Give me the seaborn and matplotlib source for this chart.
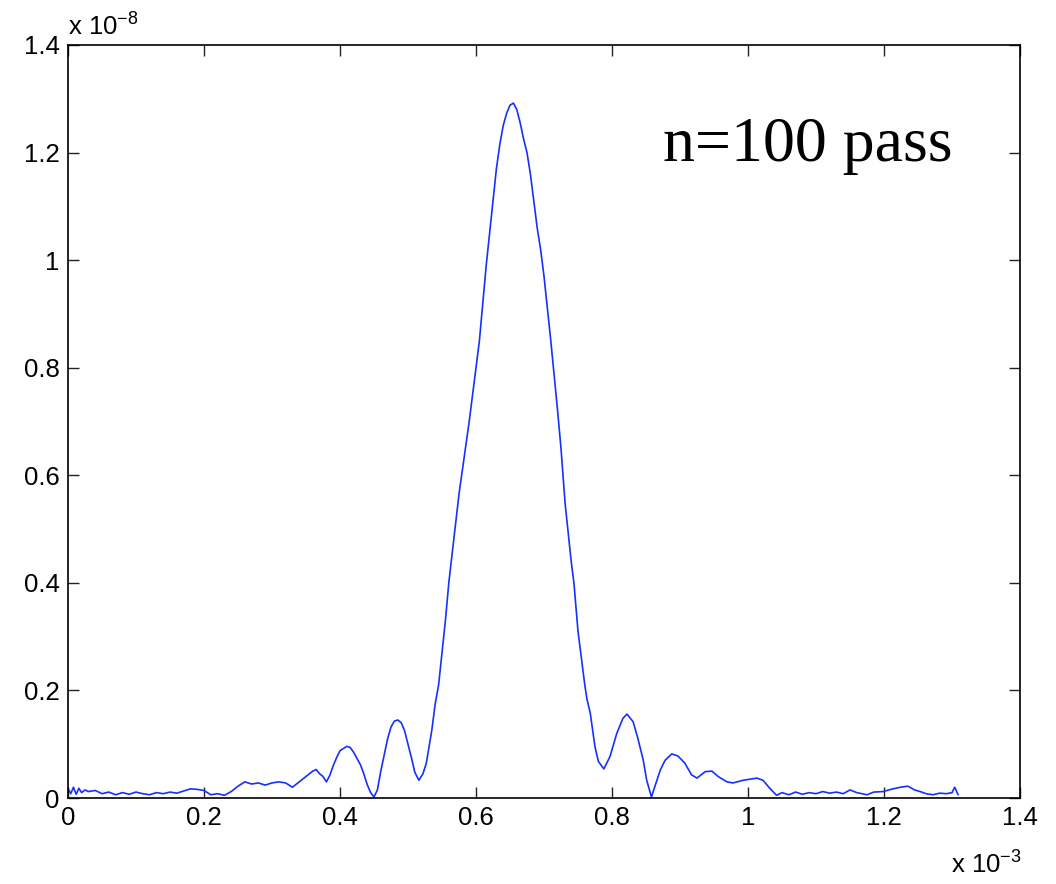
import numpy as np
import pandas as pd
import matplotlib
matplotlib.use("Agg")
import matplotlib.pyplot as plt
import seaborn as sns

# x in units of 1e-3, y in units of 1e-8
x_vals = [
    0.000, 0.004, 0.008, 0.012, 0.016, 0.020, 0.025, 0.030, 0.040, 0.050,
    0.060, 0.070, 0.080, 0.090, 0.100, 0.110, 0.120, 0.130, 0.140, 0.150,
    0.160, 0.170, 0.180, 0.190, 0.200, 0.210, 0.220, 0.230, 0.240, 0.250,
    0.260, 0.270, 0.280, 0.290, 0.300, 0.310, 0.320, 0.330, 0.340, 0.350,
    0.360, 0.365, 0.370, 0.375, 0.380, 0.385, 0.390, 0.395, 0.400, 0.410,
    0.415, 0.420, 0.430, 0.435, 0.440, 0.445, 0.450, 0.455, 0.460, 0.465,
    0.470, 0.475, 0.480, 0.485, 0.490, 0.495, 0.500, 0.505, 0.510, 0.516,
    0.522, 0.527, 0.531, 0.535, 0.540, 0.545, 0.550, 0.555, 0.560, 0.565,
    0.570, 0.575, 0.580, 0.585, 0.590, 0.595, 0.600, 0.605, 0.610, 0.615,
    0.620, 0.625, 0.630, 0.635, 0.640, 0.645, 0.650, 0.655, 0.660, 0.665,
    0.670, 0.675, 0.680, 0.685, 0.690, 0.695, 0.700, 0.705, 0.710, 0.716,
    0.720, 0.725, 0.731, 0.735, 0.740, 0.744, 0.750, 0.755, 0.760, 0.763,
    0.768, 0.775, 0.780, 0.788, 0.797, 0.807, 0.816, 0.822, 0.831, 0.838,
    0.846, 0.851, 0.858, 0.863, 0.871, 0.878, 0.888, 0.897, 0.907, 0.917,
    0.925, 0.937, 0.947, 0.956, 0.969, 0.978, 0.993, 1.003, 1.013, 1.022,
    1.032, 1.042, 1.050, 1.060, 1.070, 1.080, 1.090, 1.100, 1.110, 1.120,
    1.130, 1.140, 1.150, 1.160, 1.175, 1.185, 1.199, 1.210, 1.224, 1.235,
    1.245, 1.253, 1.262, 1.272, 1.282, 1.292, 1.300, 1.304, 1.309,
]
y_vals = [
    0.018, 0.008, 0.020, 0.007, 0.018, 0.010, 0.015, 0.012, 0.014, 0.008,
    0.011, 0.006, 0.010, 0.007, 0.011, 0.008, 0.006, 0.010, 0.008, 0.011,
    0.009, 0.013, 0.017, 0.016, 0.014, 0.006, 0.008, 0.005, 0.012, 0.022,
    0.030, 0.026, 0.028, 0.024, 0.028, 0.030, 0.028, 0.020, 0.030, 0.040,
    0.050, 0.053, 0.045, 0.040, 0.030, 0.042, 0.060, 0.075, 0.088, 0.096,
    0.094, 0.085, 0.062, 0.045, 0.025, 0.010, 0.002, 0.015, 0.050, 0.080,
    0.110, 0.132, 0.143, 0.145, 0.140, 0.125, 0.100, 0.075, 0.048, 0.033,
    0.045, 0.065, 0.095, 0.126, 0.175, 0.210, 0.270, 0.330, 0.400, 0.455,
    0.510, 0.565, 0.610, 0.655, 0.700, 0.750, 0.800, 0.850, 0.920, 0.990,
    1.050, 1.110, 1.170, 1.215, 1.250, 1.273, 1.288, 1.292, 1.280, 1.255,
    1.225, 1.200, 1.160, 1.110, 1.060, 1.020, 0.970, 0.910, 0.850, 0.771,
    0.720, 0.650, 0.548, 0.500, 0.440, 0.400, 0.310, 0.260, 0.210, 0.185,
    0.158, 0.095, 0.068, 0.054, 0.077, 0.120, 0.148, 0.156, 0.142, 0.111,
    0.070, 0.033, 0.002, 0.021, 0.052, 0.070, 0.082, 0.078, 0.065, 0.043,
    0.037, 0.049, 0.050, 0.040, 0.030, 0.028, 0.033, 0.035, 0.037, 0.033,
    0.018, 0.005, 0.010, 0.006, 0.011, 0.007, 0.010, 0.008, 0.012, 0.009,
    0.011, 0.008, 0.015, 0.010, 0.006, 0.011, 0.012, 0.016, 0.020, 0.022,
    0.015, 0.012, 0.008, 0.006, 0.009, 0.008, 0.010, 0.020, 0.006,
]
tick_vals = [0, 0.2, 0.4, 0.6, 0.8, 1.0, 1.2, 1.4]
tick_labels = ["0", "0.2", "0.4", "0.6", "0.8", "1", "1.2", "1.4"]

df = pd.DataFrame({"x": x_vals, "y": y_vals})

sns.set_theme(style="white")
plt.rcParams["font.family"] = ["Liberation Sans", "DejaVu Sans"]
plt.rcParams["mathtext.fontset"] = "custom"
plt.rcParams["mathtext.rm"] = "Liberation Sans"
plt.rcParams["mathtext.it"] = "Liberation Sans"
plt.rcParams["text.color"] = "black"

fig = plt.figure(figsize=(10.56, 8.84), dpi=100)
ax = fig.add_axes([68 / 1056, 1 - 798 / 884, 952 / 1056, 753 / 884])

sns.lineplot(data=df, x="x", y="y", ax=ax, color="#1530ff", linewidth=1.2,
             estimator=None, sort=False)

ax.set_xlim(0, 1.4)
ax.set_ylim(0, 1.4)
ax.set_xticks(tick_vals)
ax.set_xticklabels(tick_labels)
ax.set_yticks(tick_vals)
ax.set_yticklabels(tick_labels)
ax.set_xlabel("")
ax.set_ylabel("")
ax.tick_params(direction="in", length=8, width=1.0, color="#222222",
               labelsize=18.5, top=True, right=True, bottom=True, left=True,
               pad=6, labelcolor="black")
for s in ax.spines.values():
    s.set_visible(True)
    s.set_color("black")
    s.set_linewidth(1.2)

ax.text(0.0, 1.012, r"x 10$^{-8}$", transform=ax.transAxes, fontsize=18.5,
        ha="left", va="baseline", color="black")
ax.text(1.002, -0.101, r"x 10$^{-3}$", transform=ax.transAxes, fontsize=18.5,
        ha="right", va="baseline", color="black")
ax.text(0.625, 0.846, "n=100 pass", transform=ax.transAxes, fontsize=46,
        family=["Liberation Serif", "DejaVu Serif"], ha="left", va="baseline",
        color="black")

fig.savefig("out.png", dpi=100)
